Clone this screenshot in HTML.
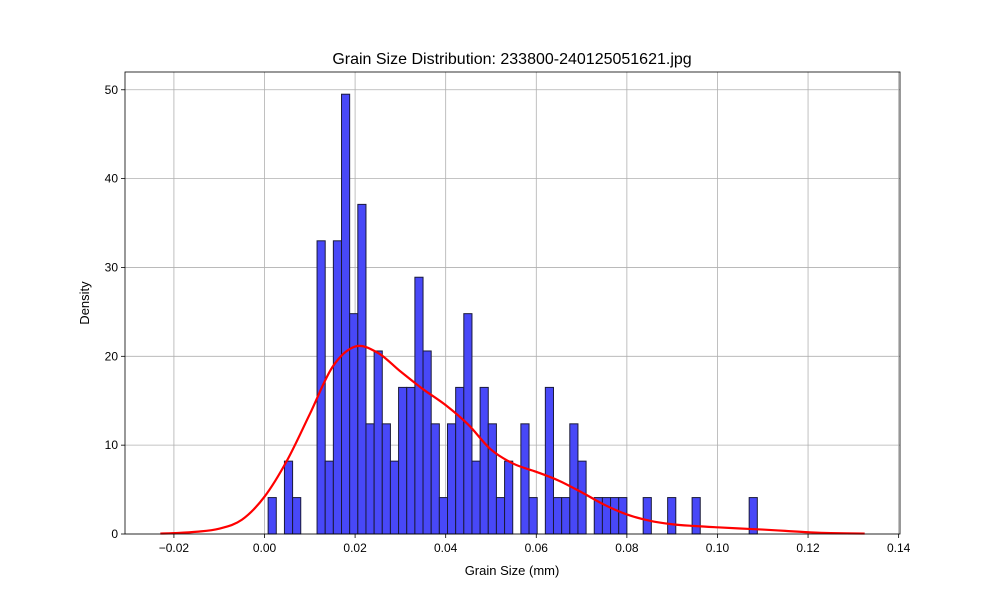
<!DOCTYPE html>
<html><head><meta charset="utf-8"><style>
body{margin:0;background:#fff;font-family:"Liberation Sans","DejaVu Sans",sans-serif}
svg text{font-family:"Liberation Sans","DejaVu Sans",sans-serif}
</style></head><body>
<svg id="c" width="1000" height="600" viewBox="0 0 1000 600">
<rect width="1000" height="600" fill="#fff"/>
<g id="grid"></g><g id="bars"></g><g id="kde"></g><g id="axes"></g>
<text x="512" y="64" text-anchor="middle" font-size="16">Grain Size Distribution: 233800-240125051621.jpg</text>
<text x="512" y="575" text-anchor="middle" font-size="13">Grain Size (mm)</text>
<text x="89" y="303" text-anchor="middle" font-size="13" transform="rotate(-90 89 303)">Density</text>
</svg>
<script>
const binStart = 0.0008;
const binWidth = 0.0018;
const densities = [4.1,0,8.2,4.1,0,0,33,8.2,33,49.5,24.8,37.1,12.4,20.6,12.4,8.2,16.5,16.5,28.9,20.6,12.4,4.1,12.4,16.5,24.8,8.2,16.5,12.4,4.1,8.2,0,12.4,4.1,0,16.5,4.1,4.1,12.4,8.2,0,4.1,4.1,4.1,4.1,0,0,4.1,0,0,4.1,0,0,4.1,0,0,0,0,0,0,4.1];
const kdeX = [-0.023,-0.02,-0.015,-0.01,-0.005,0,0.005,0.01,0.015,0.02,0.025,0.03,0.035,0.04,0.045,0.05,0.055,0.06,0.065,0.07,0.075,0.08,0.085,0.09,0.095,0.1,0.105,0.11,0.115,0.12,0.125,0.1325];
const kdeY = [0.05,0.1,0.25,0.6,1.6,4.2,8.3,13.5,18.8,21.1,20.4,18.3,16.3,14.5,12.3,9.5,7.9,7.0,6.0,4.7,3.3,2.2,1.5,1.1,0.9,0.75,0.62,0.5,0.35,0.2,0.1,0.05];
const xTicks = [-0.02,0,0.02,0.04,0.06,0.08,0.1,0.12,0.14];
const xTickLabels = ["−0.02","0.00","0.02","0.04","0.06","0.08","0.10","0.12","0.14"];
const yTicks = [0,10,20,30,40,50];

const L=125,R=900,T=72,B=534, xmin=-0.0308, xmax=0.1403, ymax=52.0;
const X=v=>L+(v-xmin)/(xmax-xmin)*(R-L);
const Y=v=>B-v/ymax*(B-T);
const NS="http://www.w3.org/2000/svg";
function mk(tag,attrs,parent){const e=document.createElementNS(NS,tag);for(const k in attrs)e.setAttribute(k,attrs[k]);parent.appendChild(e);return e;}
const grid=document.getElementById('grid'),bars=document.getElementById('bars'),kde=document.getElementById('kde'),axes=document.getElementById('axes');
xTicks.forEach((t,i)=>{const x=X(t);
 const g=mk('line',{x1:x,x2:x,y1:T,y2:B,stroke:'#b0b0b0','stroke-width':0.8},grid);
 
 
 const tk=mk('line',{x1:x,x2:x,y1:B,y2:B+4,stroke:'#000','stroke-width':0.8},axes);
 
 
 const tx=mk('text',{x:x,y:B+18,'text-anchor':'middle','font-size':12},axes);tx.textContent=xTickLabels[i];
 
 
});
yTicks.forEach(t=>{const y=Y(t);
 const g=mk('line',{x1:L,x2:R,y1:y,y2:y,stroke:'#b0b0b0','stroke-width':0.8},grid);
 
 
 const tk=mk('line',{x1:L-4,x2:L,y1:y,y2:y,stroke:'#000','stroke-width':0.8},axes);
 
 
 const tx=mk('text',{x:L-7,y:y+4,'text-anchor':'end','font-size':12},axes);tx.textContent=String(t);
 
 
});
densities.forEach((d,i)=>{if(d<=0)return;const x0=X(binStart+i*binWidth),x1=X(binStart+(i+1)*binWidth);
 const r=mk('rect',{x:x0,y:Y(d),width:x1-x0,height:B-Y(d),fill:'#4848f8',stroke:'#1a1a3a','stroke-width':1},bars);
 
 
});
const pts=kdeX.map((v,i)=>[X(v),Y(kdeY[i])]);
let d='M'+pts[0][0]+','+pts[0][1];
for(let i=0;i<pts.length-1;i++){const p0=pts[Math.max(0,i-1)],p1=pts[i],p2=pts[i+1],p3=pts[Math.min(pts.length-1,i+2)];
 d+=' C'+(p1[0]+(p2[0]-p0[0])/6)+','+(p1[1]+(p2[1]-p0[1])/6)+' '+(p2[0]-(p3[0]-p1[0])/6)+','+(p2[1]-(p3[1]-p1[1])/6)+' '+p2[0]+','+p2[1];}
const path=mk('path',{d:d,fill:'none',stroke:'#ff0000','stroke-width':2.2},kde);


const fr=mk('rect',{x:L,y:T,width:R-L,height:B-T,fill:'none',stroke:'#000','stroke-width':0.8},axes);


</script>
</body></html>
